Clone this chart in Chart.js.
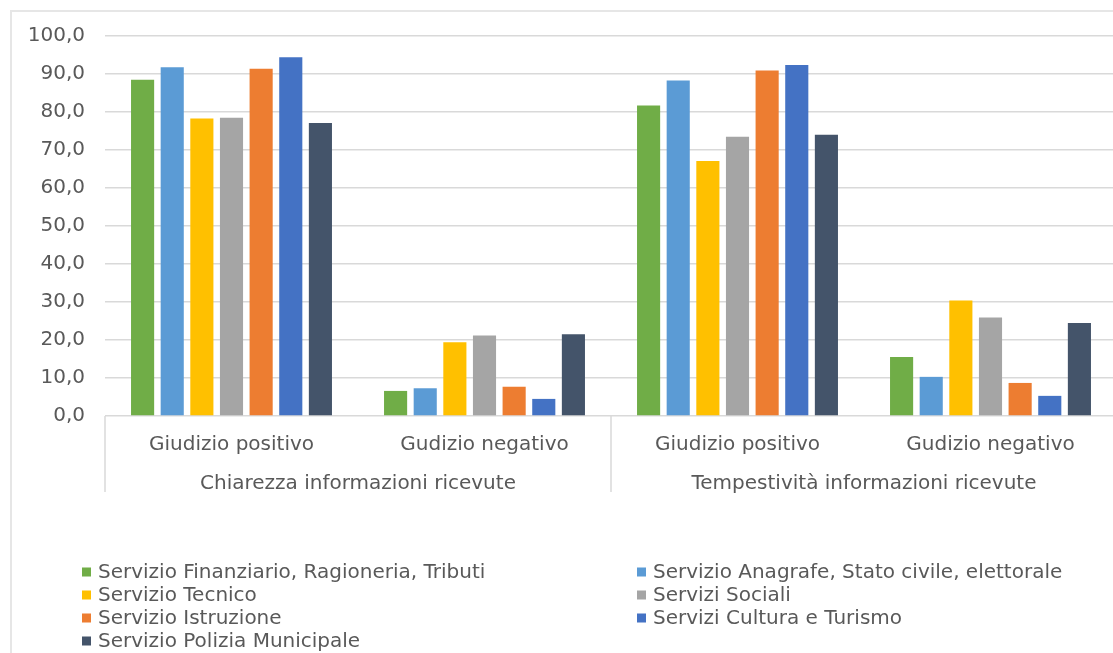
<!DOCTYPE html>
<html>
<head>
<meta charset="utf-8">
<script src="https://cdn.jsdelivr.net/npm/chart.js@4"></script>
<style>
  html, body { margin: 0; padding: 0; background: #fff; overflow: hidden; }
  #frame { position: absolute; left: 10px; top: 10px; width: 1200px; height: 800px; border: 2px solid #e6e6e6; box-sizing: border-box; }
  #wrap { position: absolute; left: 0; top: 0; width: 1120px; height: 653px; }
</style>
</head>
<body>
<div id="frame"></div>
<div id="wrap"><canvas id="chart"></canvas></div>
<script>
const categories = ['Giudizio positivo', 'Gudizio negativo', 'Giudizio positivo', 'Gudizio negativo'];
const groups = ['Chiarezza informazioni ricevute', 'Tempestività informazioni ricevute'];

const seriesNames = [
  'Servizio Finanziario, Ragioneria, Tributi',
  'Servizio Anagrafe, Stato civile, elettorale',
  'Servizio Tecnico',
  'Servizi Sociali',
  'Servizio Istruzione',
  'Servizi Cultura e Turismo',
  'Servizio Polizia Municipale'
];
const seriesColors = ['#70AD47', '#5B9BD5', '#FFC000', '#A5A5A5', '#ED7D31', '#4472C4', '#44546A'];

const finanziario = [88.5, 6.6, 81.7, 15.5];
const anagrafe    = [91.8, 7.3, 88.3, 10.3];
const tecnico     = [78.3, 19.4, 67.1, 30.4];
const sociali     = [78.5, 21.2, 73.5, 25.9];
const istruzione  = [91.4, 7.7, 90.9, 8.7];
const cultura     = [94.4, 4.5, 92.4, 5.3];
const polizia     = [77.1, 21.5, 74.0, 24.5];
const seriesValues = [finanziario, anagrafe, tecnico, sociali, istruzione, cultura, polizia];

const textColor = '#595959';
const gridColor = '#d9d9d9';
const fontFamily = '"DejaVu Sans", Verdana, sans-serif';

// vertical separators of the two-level category axis
const groupLines = {
  id: 'groupLines',
  afterDraw(chart) {
    const x = chart.scales.x;
    const ctx = chart.ctx;
    const mid = (x.getPixelForValue(1) + x.getPixelForValue(2)) / 2;
    ctx.save();
    ctx.strokeStyle = gridColor;
    ctx.lineWidth = 1.5;
    [x.left, mid, x.right].forEach(px => {
      ctx.beginPath();
      ctx.moveTo(px, x.top);
      ctx.lineTo(px, 492);
      ctx.stroke();
    });
    ctx.restore();
  }
};

// legend in two columns, like the spreadsheet one
const gridLegend = {
  id: 'gridLegend',
  afterDraw(chart) {
    const ctx = chart.ctx;
    const colX = [82, 637];
    const top = 572;
    const rowH = 23;
    ctx.save();
    ctx.font = '20px ' + fontFamily;
    ctx.textBaseline = 'middle';
    ctx.textAlign = 'left';
    chart.data.datasets.forEach((ds, i) => {
      const col = i % 2;
      const row = Math.floor(i / 2);
      const x = colX[col];
      const y = top + row * rowH;
      ctx.fillStyle = ds.backgroundColor;
      ctx.fillRect(x, y - 4.5, 9, 9);
      ctx.fillStyle = textColor;
      ctx.fillText(ds.label, x + 16, y + 1);
    });
    ctx.restore();
  }
};

new Chart(document.getElementById('chart').getContext('2d'), {
  type: 'bar',
  data: {
    labels: categories,
    datasets: seriesNames.map((name, i) => ({
      label: name,
      data: seriesValues[i],
      backgroundColor: seriesColors[i],
      borderWidth: 0,
      categoryPercentage: 0.82,
      barPercentage: 0.78
    }))
  },
  options: {
    responsive: true,
    maintainAspectRatio: false,
    animation: false,
    layout: { padding: { top: 36, right: 3, bottom: 152, left: 0 } },
    plugins: {
      legend: { display: false },
      tooltip: { enabled: false }
    },
    scales: {
      y: {
        min: 0,
        max: 100,
        border: { display: false },
        grid: { color: gridColor, lineWidth: 1.5, drawTicks: false },
        ticks: {
          stepSize: 10,
          color: textColor,
          padding: 20,
          font: { family: fontFamily, size: 20 },
          callback: v => v.toFixed(1).replace('.', ',')
        },
        afterFit: s => { s.width = 105; }
      },
      x: {
        grid: { display: false },
        border: { display: false },
        ticks: {
          color: textColor,
          padding: 9,
          maxRotation: 0,
          autoSkip: false,
          font: { family: fontFamily, size: 20 }
        },
        afterFit: s => { s.height = 45; }
      },
      x2: {
        type: 'category',
        labels: groups,
        position: 'bottom',
        offset: true,
        grid: { display: false },
        border: { display: false },
        ticks: {
          color: textColor,
          padding: 3,
          maxRotation: 0,
          autoSkip: false,
          font: { family: fontFamily, size: 20 }
        },
        afterFit: s => { s.height = 40; }
      }
    }
  },
  plugins: [groupLines, gridLegend]
});
</script>
</body>
</html>
